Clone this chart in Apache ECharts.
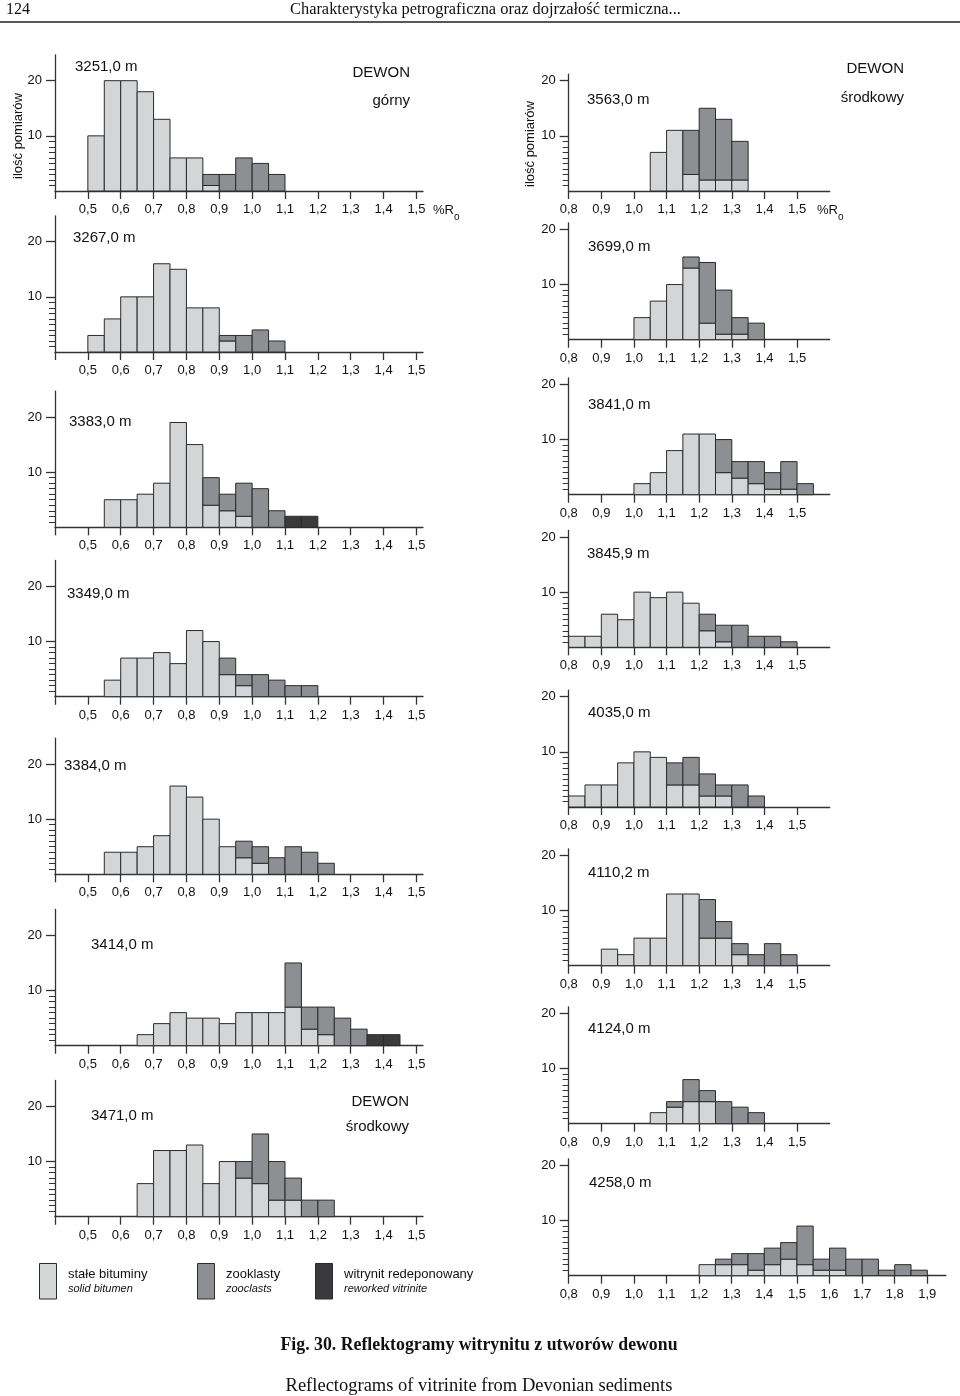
<!DOCTYPE html>
<html><head><meta charset="utf-8">
<script src="https://cdn.jsdelivr.net/npm/echarts@6/dist/echarts.min.js"></script>
<style>html,body{margin:0;padding:0;background:#fff}#c{width:960px;height:1396px}</style>
</head><body><div id="c"></div>
<script>
// ---------- DATA ----------
// bin lower edges (%Ro), each bin is 0.05 wide
const binsLeft  = [0.50,0.55,0.60,0.65,0.70,0.75,0.80,0.85,0.90,0.95,1.00,1.05,1.10,1.15,1.20,1.25,1.30,1.35,1.40,1.45];
const binsRight = [0.80,0.85,0.90,0.95,1.00,1.05,1.10,1.15,1.20,1.25,1.30,1.35,1.40,1.45,1.50,1.55];
const bins4258  = [0.80,0.85,0.90,0.95,1.00,1.05,1.10,1.15,1.20,1.25,1.30,1.35,1.40,1.45,1.50,1.55,1.60,1.65,1.70,1.75,1.80,1.85];
const BIN_WIDTH = 0.05;

// tick values / labels
const ticksLeft   = [0.4,0.5,0.6,0.7,0.8,0.9,1.0,1.1,1.2,1.3,1.4,1.5];
const labelsLeft  = [0.5,0.6,0.7,0.8,0.9,1.0,1.1,1.2,1.3,1.4,1.5];
const ticksRight  = [0.8,0.9,1.0,1.1,1.2,1.3,1.4,1.5];
const ticks4258   = [0.8,0.9,1.0,1.1,1.2,1.3,1.4,1.5,1.6,1.7,1.8,1.9];
const yMajorTicks = [10,20];
const yMinorTicks = [1,2,3,4,5,6,7,8,9];

// counts: solid bitumen (stałe bituminy), zooclasts (zooklasty), reworked vitrinite (witrynit redeponowany)
const solid_3251 = [10,20,20,18,13,6,6,1,0,0,0,0,0,0,0,0,0,0,0,0];
const zoo_3251   = [0,0,0,0,0,0,0,2,3,6,5,3,0,0,0,0,0,0,0,0];

const solid_3267 = [3,6,10,10,16,15,8,8,2,0,0,0,0,0,0,0,0,0,0,0];
const zoo_3267   = [0,0,0,0,0,0,0,0,1,3,4,2,0,0,0,0,0,0,0,0];

const solid_3383 = [0,5,5,6,8,19,15,4,3,2,0,0,0,0,0,0,0,0,0,0];
const zoo_3383   = [0,0,0,0,0,0,0,5,3,6,7,3,0,0,0,0,0,0,0,0];
const rew_3383   = [0,0,0,0,0,0,0,0,0,0,0,0,2,2,0,0,0,0,0,0];

const solid_3349 = [0,3,7,7,8,6,12,10,4,2,0,0,0,0,0,0,0,0,0,0];
const zoo_3349   = [0,0,0,0,0,0,0,0,3,2,4,3,2,2,0,0,0,0,0,0];

const solid_3384 = [0,4,4,5,7,16,14,10,5,3,2,0,0,0,0,0,0,0,0,0];
const zoo_3384   = [0,0,0,0,0,0,0,0,0,3,3,3,5,4,2,0,0,0,0,0];

const solid_3414 = [0,0,0,2,4,6,5,5,4,6,6,6,7,3,2,0,0,0,0,0];
const zoo_3414   = [0,0,0,0,0,0,0,0,0,0,0,0,8,4,5,5,3,0,0,0];
const rew_3414   = [0,0,0,0,0,0,0,0,0,0,0,0,0,0,0,0,0,2,2,0];

const solid_3471 = [0,0,0,6,12,12,13,6,10,7,6,3,3,0,0,0,0,0,0,0];
const zoo_3471   = [0,0,0,0,0,0,0,0,0,3,9,7,4,3,3,0,0,0,0,0];

const solid_3563 = [0,0,0,0,0,7,11,3,2,2,2,0,0,0,0,0];
const zoo_3563   = [0,0,0,0,0,0,0,8,13,11,7,0,0,0,0,0];

const solid_3699 = [0,0,0,0,4,7,10,13,3,1,1,0,0,0,0,0];
const zoo_3699   = [0,0,0,0,0,0,0,2,11,8,3,3,0,0,0,0];

const solid_3841 = [0,0,0,0,2,4,8,11,11,4,3,2,1,1,0,0];
const zoo_3841   = [0,0,0,0,0,0,0,0,0,6,3,4,3,5,2,0];

const solid_38459 = [2,2,6,5,10,9,10,8,3,1,0,0,0,0,0,0];
const zoo_38459   = [0,0,0,0,0,0,0,0,3,3,4,2,2,1,0,0];

const solid_4035 = [2,4,4,8,10,9,4,4,2,2,0,0,0,0,0,0];
const zoo_4035   = [0,0,0,0,0,0,4,5,4,2,4,2,0,0,0,0];

const solid_41102 = [0,0,3,2,5,5,13,13,5,5,2,0,0,0,0,0];
const zoo_41102   = [0,0,0,0,0,0,0,0,7,3,2,2,4,2,0,0];

const solid_4124 = [0,0,0,0,0,2,3,4,4,0,0,0,0,0,0,0];
const zoo_4124   = [0,0,0,0,0,0,1,4,2,4,3,2,0,0,0,0];

const solid_4258 = [0,0,0,0,0,0,0,0,2,2,2,1,2,3,2,1,1,0,0,0,0,0];
const zoo_4258   = [0,0,0,0,0,0,0,0,0,1,2,3,3,3,7,2,4,3,3,1,2,1];

// ---------- STYLE / LAYOUT ----------
const C_SOLID = '#d4d5d7', C_ZOO = '#8e8f93', C_REW = '#3a3a3c', EDGE = '#2b2b2b', AXIS = '#333';
const FONT = '"Liberation Sans", Arial, sans-serif';
const SERIF = '"Liberation Serif", "Times New Roman", serif';
const UNIT = 5.515; // px per count

const panels = [
  {name:'3251,0 m', bins:binsLeft, s:solid_3251, z:zoo_3251, r:null, left:55, width:368, min:0.4, max:1.52, ymax:24.7, base:191, ticks:ticksLeft, labels:labelsLeft, tx:75, ty:67},
  {name:'3267,0 m', bins:binsLeft, s:solid_3267, z:zoo_3267, r:null, left:55, width:368, min:0.4, max:1.52, ymax:24.7, base:352, ticks:ticksLeft, labels:labelsLeft, tx:73, ty:238},
  {name:'3383,0 m', bins:binsLeft, s:solid_3383, z:zoo_3383, r:rew_3383, left:55, width:368, min:0.4, max:1.52, ymax:24.7, base:527.3, ticks:ticksLeft, labels:labelsLeft, tx:69, ty:422},
  {name:'3349,0 m', bins:binsLeft, s:solid_3349, z:zoo_3349, r:null, left:55, width:368, min:0.4, max:1.52, ymax:24.7, base:696.7, ticks:ticksLeft, labels:labelsLeft, tx:67, ty:594},
  {name:'3384,0 m', bins:binsLeft, s:solid_3384, z:zoo_3384, r:null, left:55, width:368, min:0.4, max:1.52, ymax:24.7, base:874.3, ticks:ticksLeft, labels:labelsLeft, tx:64, ty:766},
  {name:'3414,0 m', bins:binsLeft, s:solid_3414, z:zoo_3414, r:rew_3414, left:55, width:368, min:0.4, max:1.52, ymax:24.7, base:1045.7, ticks:ticksLeft, labels:labelsLeft, tx:91, ty:945},
  {name:'3471,0 m', bins:binsLeft, s:solid_3471, z:zoo_3471, r:null, left:55, width:368, min:0.4, max:1.52, ymax:24.7, base:1216.7, ticks:ticksLeft, labels:labelsLeft, tx:91, ty:1116},
  {name:'3563,0 m', bins:binsRight, s:solid_3563, z:zoo_3563, r:null, left:568.7, width:261, min:0.8, max:1.6, ymax:21.2, base:191, ticks:ticksRight, labels:ticksRight, tx:587, ty:100},
  {name:'3699,0 m', bins:binsRight, s:solid_3699, z:zoo_3699, r:null, left:568.7, width:261, min:0.8, max:1.6, ymax:21.2, base:339.7, ticks:ticksRight, labels:ticksRight, tx:588, ty:247},
  {name:'3841,0 m', bins:binsRight, s:solid_3841, z:zoo_3841, r:null, left:568.7, width:261, min:0.8, max:1.6, ymax:21.2, base:494.7, ticks:ticksRight, labels:ticksRight, tx:588, ty:405},
  {name:'3845,9 m', bins:binsRight, s:solid_38459, z:zoo_38459, r:null, left:568.7, width:261, min:0.8, max:1.6, ymax:21.2, base:647.3, ticks:ticksRight, labels:ticksRight, tx:587, ty:554},
  {name:'4035,0 m', bins:binsRight, s:solid_4035, z:zoo_4035, r:null, left:568.7, width:261, min:0.8, max:1.6, ymax:21.2, base:807, ticks:ticksRight, labels:ticksRight, tx:588, ty:713},
  {name:'4110,2 m', bins:binsRight, s:solid_41102, z:zoo_41102, r:null, left:568.7, width:261, min:0.8, max:1.6, ymax:21.2, base:965.7, ticks:ticksRight, labels:ticksRight, tx:588, ty:873},
  {name:'4124,0 m', bins:binsRight, s:solid_4124, z:zoo_4124, r:null, left:568.7, width:261, min:0.8, max:1.6, ymax:21.2, base:1123.7, ticks:ticksRight, labels:ticksRight, tx:588, ty:1029},
  {name:'4258,0 m', bins:bins4258, s:solid_4258, z:zoo_4258, r:null, left:568.7, width:377.2, min:0.8, max:1.957, ymax:21.2, base:1275.7, ticks:ticks4258, labels:ticks4258, tx:589, ty:1183}
];

const fmt = v => (Math.round(v*10)/10).toFixed(1).replace('.', ',');

const grid = [], xAxis = [], yAxis = [], series = [], graphic = [];

function barSeries(pi, bins, lo, hi, color) {
  const data = [];
  bins.forEach((b, i) => { if (hi[i] > lo[i]) data.push([b, lo[i], hi[i]]); });
  return {
    type: 'custom', xAxisIndex: pi, yAxisIndex: 2*pi, data, silent: true, animation: false,
    encode: {x: 0, y: [1, 2]},
    renderItem(params, api) {
      const x0 = api.value(0), y0 = api.value(1), y1 = api.value(2);
      const a = api.coord([x0, y0]), b = api.coord([x0 + BIN_WIDTH, y1]);
      return {type: 'rect', shape: {x: a[0], y: b[1], width: b[0]-a[0], height: a[1]-b[1]},
              style: {fill: color, stroke: EDGE, lineWidth: 1}};
    }
  };
}

panels.forEach((p, pi) => {
  const h = p.ymax * UNIT;
  grid.push({left: p.left, top: p.base - h, width: p.width, height: h});
  xAxis.push({
    type: 'value', gridIndex: pi, min: p.min, max: p.max, position: 'bottom',
    axisLine: {show: true, onZero: false, lineStyle: {color: AXIS, width: 1.3}},
    axisTick: {show: true, customValues: p.ticks, length: 8, lineStyle: {color: AXIS, width: 1.3}},
    axisLabel: {show: true, customValues: p.labels, formatter: fmt, margin: 12, color: '#111', fontSize: 13, fontFamily: FONT},
    splitLine: {show: false}
  });
  yAxis.push({
    type: 'value', gridIndex: pi, min: 0, max: p.ymax, position: 'left', offset: 0,
    axisLine: {show: true, onZero: false, lineStyle: {color: AXIS, width: 1.3}},
    axisTick: {show: true, customValues: yMajorTicks, length: 9, lineStyle: {color: AXIS, width: 1.3}},
    axisLabel: {show: true, customValues: yMajorTicks, margin: 13, color: '#111', fontSize: 13, fontFamily: FONT},
    splitLine: {show: false}
  });
  yAxis.push({
    type: 'value', gridIndex: pi, min: 0, max: p.ymax, position: 'left', offset: 0,
    axisLine: {show: false, onZero: false},
    axisTick: {show: true, customValues: yMinorTicks, length: 6, lineStyle: {color: AXIS, width: 1}},
    axisLabel: {show: false}, splitLine: {show: false}
  });
  const zeros = p.bins.map(() => 0);
  const sTop = p.s.slice();
  const zTop = p.s.map((v, i) => v + p.z[i]);
  const rTop = p.r ? zTop.map((v, i) => v + p.r[i]) : zTop;
  series.push(barSeries(pi, p.bins, zeros, sTop, C_SOLID));
  series.push(barSeries(pi, p.bins, sTop, zTop, C_ZOO));
  if (p.r) series.push(barSeries(pi, p.bins, zTop, rTop, C_REW));
  graphic.push({type: 'text', x: p.tx, y: p.ty, style: {text: p.name, font: '15px ' + FONT, fill: '#111', verticalAlign: 'middle'}});
});

function txt(x, y, text, font, align, extra) {
  return Object.assign({type: 'text', x, y, style: {text, font, fill: '#111', align: align || 'left', verticalAlign: 'middle'}}, extra || {});
}

// page header
graphic.push(txt(6, 10, '124', '16px ' + SERIF));
graphic.push(txt(290, 10, 'Charakterystyka petrograficzna oraz dojrzałość termiczna...', '16.4px ' + SERIF));
graphic.push({type: 'line', shape: {x1: 0, y1: 22, x2: 960, y2: 22}, style: {stroke: '#222', lineWidth: 1.5}});

// axis titles
graphic.push(txt(18, 136, 'ilość pomiarów', '13px ' + FONT, 'center', {rotation: Math.PI/2}));
graphic.push(txt(530, 144, 'ilość pomiarów', '13px ' + FONT, 'center', {rotation: Math.PI/2}));
graphic.push(txt(433, 210, '%R', '13px ' + FONT));
graphic.push(txt(454, 217, 'o', '10px ' + FONT));
graphic.push(txt(817, 210, '%R', '13px ' + FONT));
graphic.push(txt(838, 217, 'o', '10px ' + FONT));

// stratigraphic labels
graphic.push(txt(410, 73, 'DEWON', '15px ' + FONT, 'right'));
graphic.push(txt(410, 101, 'górny', '15px ' + FONT, 'right'));
graphic.push(txt(904, 69, 'DEWON', '15px ' + FONT, 'right'));
graphic.push(txt(904, 98, 'środkowy', '15px ' + FONT, 'right'));
graphic.push(txt(409, 1102, 'DEWON', '15px ' + FONT, 'right'));
graphic.push(txt(409, 1127, 'środkowy', '15px ' + FONT, 'right'));

// legend
const legendItems = [
  {x: 39.5, color: C_SOLID, pl: 'stałe bituminy', en: 'solid bitumen'},
  {x: 197.5, color: C_ZOO, pl: 'zooklasty', en: 'zooclasts'},
  {x: 315.5, color: C_REW, pl: 'witrynit redeponowany', en: 'reworked vitrinite'}
];
legendItems.forEach(it => {
  graphic.push({type: 'rect', shape: {x: it.x, y: 1263.5, width: 17, height: 35.5}, style: {fill: it.color, stroke: EDGE, lineWidth: 1}});
  graphic.push(txt(it.x + 28.5, 1274.5, it.pl, '13px ' + FONT));
  graphic.push(txt(it.x + 28.5, 1288.5, it.en, 'italic 11px ' + FONT));
});

// caption
graphic.push(txt(479, 1345, 'Fig. 30. Reflektogramy witrynitu z utworów dewonu', 'bold 17.8px ' + SERIF, 'center'));
graphic.push(txt(479, 1386, 'Reflectograms of vitrinite from Devonian sediments', '18.5px ' + SERIF, 'center'));

const chart = echarts.init(document.getElementById('c'), null, {renderer: 'canvas', width: 960, height: 1396});
chart.setOption({animation: false, backgroundColor: '#fff', grid, xAxis, yAxis, series, graphic});
</script>
</body></html>
